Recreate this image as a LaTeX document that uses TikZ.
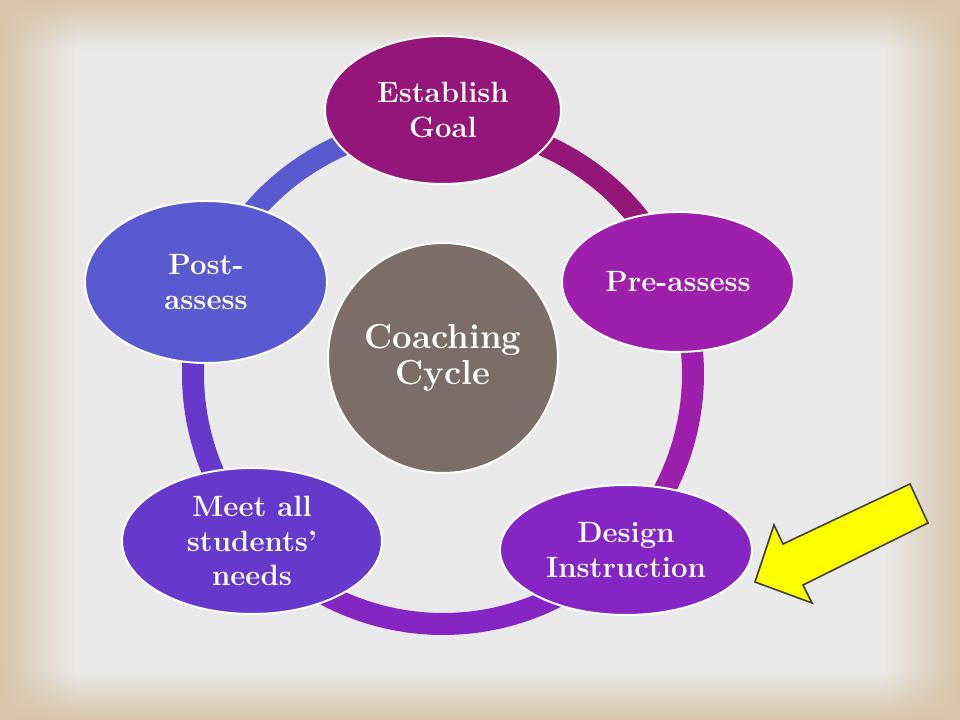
\documentclass[tikz,border=0pt]{standalone}
\usepackage{xcolor}
\usepackage{tikz}
\usetikzlibrary{shapes.geometric, fadings}
\definecolor{slideGray}{HTML}{EAEAEA}
\definecolor{slideTan}{HTML}{D9C4A9}
\definecolor{cycleGoal}{HTML}{941679}
\definecolor{cyclePre}{HTML}{9E1FAC}
\definecolor{cycleDesign}{HTML}{8526C4}
\definecolor{cycleMeet}{HTML}{6638CC}
\definecolor{cyclePost}{HTML}{5A5AD0}
\definecolor{cycleHub}{HTML}{7C6D68}
\definecolor{pointerYellow}{HTML}{FFFF00}
\definecolor{pointerEdge}{HTML}{404040}

\begin{document}
\begin{tikzpicture}[
    x=0.75pt, y=0.75pt,
    stage/.style={ellipse, draw=white, line width=1.5pt, fill=#1, text=white, inner sep=0pt, align=center, font=\fontsize{22}{26}\selectfont\bfseries},
    hub/.style={circle, draw=white, line width=1.5pt, fill=cycleHub, text=white, inner sep=0pt, align=center, font=\fontsize{26}{27}\selectfont\bfseries},
    ring/.style={line width=16.5pt, draw=#1}
]

% Slide background
\useasboundingbox (0,0) rectangle (960,720);
\fill[slideGray] (0,0) rectangle (960,720);
\fill[slideTan, path fading=east] (0,0) rectangle (75,720);
\fill[slideTan, path fading=west] (885,0) rectangle (960,720);
\fill[slideTan, path fading=north] (0,0) rectangle (960,50);
\fill[slideTan, path fading=south] (0,670) rectangle (960,720);

% Ring behind the stages
\coordinate (ctr) at (443,346);
\foreach \from/\to/\col in {90/21.4/cycleGoal, 21.4/-43.9/cyclePre, -43.9/-138.8/cycleDesign, 221.2/158.8/cycleMeet, 158.8/90/cyclePost}
  \draw[ring=\col] ([shift={(\from:250)}]ctr) arc[start angle=\from, end angle=\to, radius=187.5pt];

% Stages
\node[stage=cycleGoal, minimum width=177pt, minimum height=111pt] (goal) at (443,610) {Establish\\Goal};
\node[stage=cyclePre, minimum width=174pt, minimum height=105pt] (pre) at (678,438) {Pre-assess};
\node[stage=cycleDesign, minimum width=189pt, minimum height=97.5pt] (design) at (626,170) {Design\\Instruction};
\node[stage=cycleMeet, minimum width=195pt, minimum height=109.5pt] (meet) at (252,179) {Meet all\\students’\\needs};
\node[stage=cyclePost, minimum width=181.5pt, minimum height=121.5pt] (post) at (206,438) {Post-\\assess};

% Centre
\node[hub, minimum size=172.5pt] (cycle) at (443,362) {Coaching\\Cycle};

% Yellow pointer
\draw[pointerEdge, fill=pointerYellow, line width=1.2pt] (755,138) -- (774,195) -- (783,176) -- (910,236) -- (928,197) -- (803,135) -- (812,117) -- cycle;

\end{tikzpicture}
\end{document}
